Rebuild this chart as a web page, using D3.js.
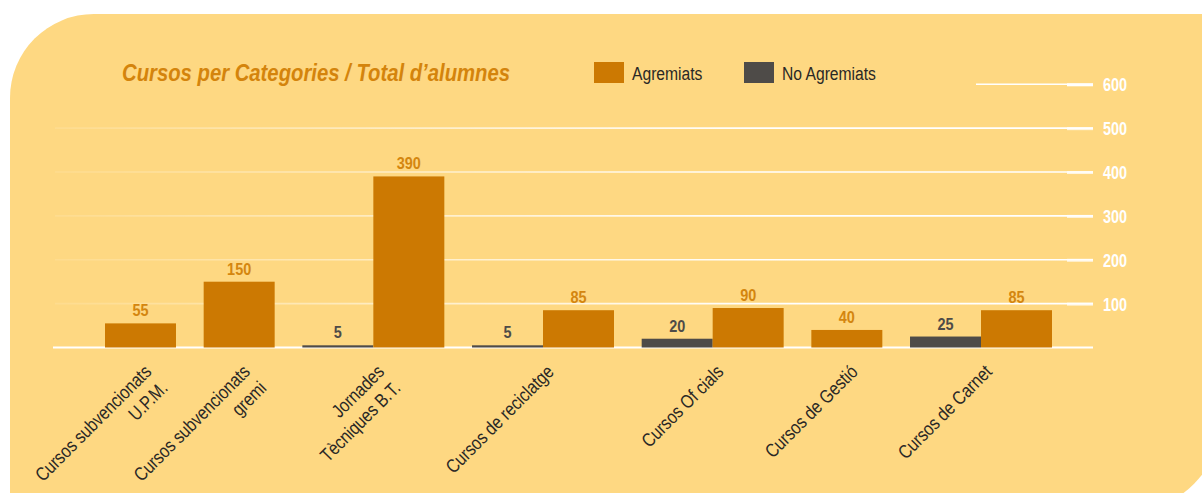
<!DOCTYPE html>
<html>
<head>
<meta charset="utf-8">
<script src="https://cdn.jsdelivr.net/npm/d3@7"></script>
<style>
  html, body { margin: 0; padding: 0; background: #fff; }
  svg { display: block; }
  text { font-family: 'Liberation Sans', Arial, sans-serif; }
</style>
</head>
<body>
<div id="chart"></div>
<script>
const width = 1202
const height = 493

// data
const categories = [
  ['Cursos subvencionats', 'U.P.M.'],
  ['Cursos subvencionats', 'gremi'],
  ['Jornades', 'Tècniques B.T.'],
  ['Cursos de reciclatge'],
  ['Cursos Of cials'],
  ['Cursos de Gestió'],
  ['Cursos de Carnet']
]
const agremiats = [55, 150, 390, 85, 90, 40, 85]
const noAgremiats = [null, null, 5, 5, 20, null, 25]
const yTicks = [100, 200, 300, 400, 500, 600]
const seriesNames = ['Agremiats', 'No Agremiats']

const orange = '#cc7902'
const dark = '#4e4b48'
const bg = '#fed882'

// no narrow font installed, so squeeze the regular one
const narrow = k => `scale(${k},1)`

const svg = d3.select('#chart')
  .append('svg')
  .attr('width', width)
  .attr('height', height)

// background panel, big round corner top-left and bottom-right
const L = 10, T = 14, R = 1224.5, B = 514.5, r1 = 84, r2 = 104.5
svg.append('path')
  .attr('d', `M${L},${T + r1} A${r1},${r1} 0 0 1 ${L + r1},${T} L${R},${T} L${R},${B - r2}
    A${r2},${r2} 0 0 1 ${R - r2},${B} L${L},${B} Z`)
  .attr('fill', bg)

const defs = svg.append('defs')
const grad = defs.append('linearGradient')
  .attr('id', 'gridFade')
  .attr('gradientUnits', 'userSpaceOnUse')
  .attr('x1', 55).attr('x2', 760).attr('y1', 0).attr('y2', 0)
grad.append('stop').attr('offset', 0).attr('stop-color', '#fff').attr('stop-opacity', 0.1)
grad.append('stop').attr('offset', 1).attr('stop-color', '#fff').attr('stop-opacity', 1)

// x layout: each category is as wide as its bars, with a fixed gap between groups
const gap = 0.39
const groups = []
let pos = 0
categories.forEach((c, i) => {
  const bars = []
  if (noAgremiats[i] != null) bars.push({ series: 1, value: noAgremiats[i] })
  if (agremiats[i] != null) bars.push({ series: 0, value: agremiats[i] })
  groups.push({ i, start: pos, n: bars.length, bars, label: c })
  pos += bars.length + gap
})
const total = pos - gap

const x = d3.scaleLinear().domain([0, total]).range([105, 1052])
const y = d3.scaleLinear().domain([0, 600]).range([347.5, 84.3])

// grid
const axisRight = 1093
svg.append('g')
  .selectAll('line')
  .data(yTicks)
  .enter().append('line')
  .attr('x1', d => d === 600 ? 976 : 55)
  .attr('x2', axisRight)
  .attr('y1', d => y(d))
  .attr('y2', d => y(d))
  .attr('stroke', d => d === 600 ? '#fff' : 'url(#gridFade)')
  .attr('stroke-width', 1.6)

svg.append('line')
  .attr('x1', 53).attr('x2', axisRight)
  .attr('y1', y(0)).attr('y2', y(0))
  .attr('stroke', '#fff')
  .attr('stroke-width', 2)

const yAxis = svg.append('g')
  .attr('transform', `translate(${axisRight},0)`)
  .call(d3.axisRight(y).tickValues(yTicks).tickSize(0).tickPadding(10))
yAxis.select('.domain').remove()
yAxis.selectAll('.tick').append('line')
  .attr('x1', -26).attr('x2', 0)
  .attr('stroke', '#fff')
  .attr('stroke-opacity', d => d === 600 ? 1 : 0.75)
  .attr('stroke-width', 3)
yAxis.selectAll('text')
  .attr('x', 12.8)
  .attr('dy', '0.36em')
  .attr('transform', narrow(0.78))
  .attr('fill', '#fff')
  .style('font-family', "'Liberation Sans', Arial, sans-serif")
  .style('font-size', '18.5px')
  .style('font-weight', 'bold')

// bars
const bars = []
groups.forEach(g => g.bars.forEach((b, k) => bars.push({ ...b, u: g.start + k })))

svg.append('g')
  .selectAll('rect')
  .data(bars)
  .enter().append('rect')
  .attr('x', d => x(d.u))
  .attr('width', d => x(d.u + 1) - x(d.u))
  .attr('y', d => y(d.value))
  .attr('height', d => y(0) - y(d.value))
  .attr('fill', d => d.series === 0 ? orange : dark)

svg.append('g')
  .selectAll('text')
  .data(bars)
  .enter().append('text')
  .attr('transform', d => `translate(${x(d.u + 0.5)},${y(d.value) - 7}) ${narrow(0.85)}`)
  .attr('text-anchor', 'middle')
  .attr('fill', d => d.series === 0 ? '#d4860f' : dark)
  .style('font-size', '17px')
  .style('font-weight', 'bold')
  .text(d => d.value)

// category labels
const xl = svg.append('g')
  .selectAll('text')
  .data(groups)
  .enter().append('text')
  .attr('transform', d => `translate(${x(d.start + d.n / 2) + 12},373) rotate(-45) ${narrow(0.83)}`)
  .attr('text-anchor', 'end')
  .attr('fill', '#2a2826')
  .style('font-size', '19px')
xl.selectAll('tspan')
  .data(d => d.label)
  .enter().append('tspan')
  .attr('x', 0)
  .attr('dy', (d, k) => k === 0 ? 0 : 23)
  .text(d => d)

// title
svg.append('text')
  .attr('x', 122)
  .attr('y', 81)
  .attr('fill', '#d4840c')
  .attr('textLength', 388)
  .attr('lengthAdjust', 'spacingAndGlyphs')
  .style('font-size', '24.5px')
  .style('font-weight', 'bold')
  .style('font-style', 'italic')
  .text('Cursos per Categories / Total d\u2019alumnes')

// legend
const legendX = [594, 744]
const legend = svg.append('g')
  .selectAll('g')
  .data(seriesNames)
  .enter().append('g')
  .attr('transform', (d, i) => `translate(${legendX[i]},62)`)
legend.append('rect')
  .attr('width', 30)
  .attr('height', 21)
  .attr('fill', (d, i) => i === 0 ? orange : dark)
legend.append('text')
  .attr('transform', `translate(38,17.5) ${narrow(0.87)}`)
  .attr('fill', '#2a2826')
  .style('font-size', '18px')
  .text(d => d)
</script>
</body>
</html>
